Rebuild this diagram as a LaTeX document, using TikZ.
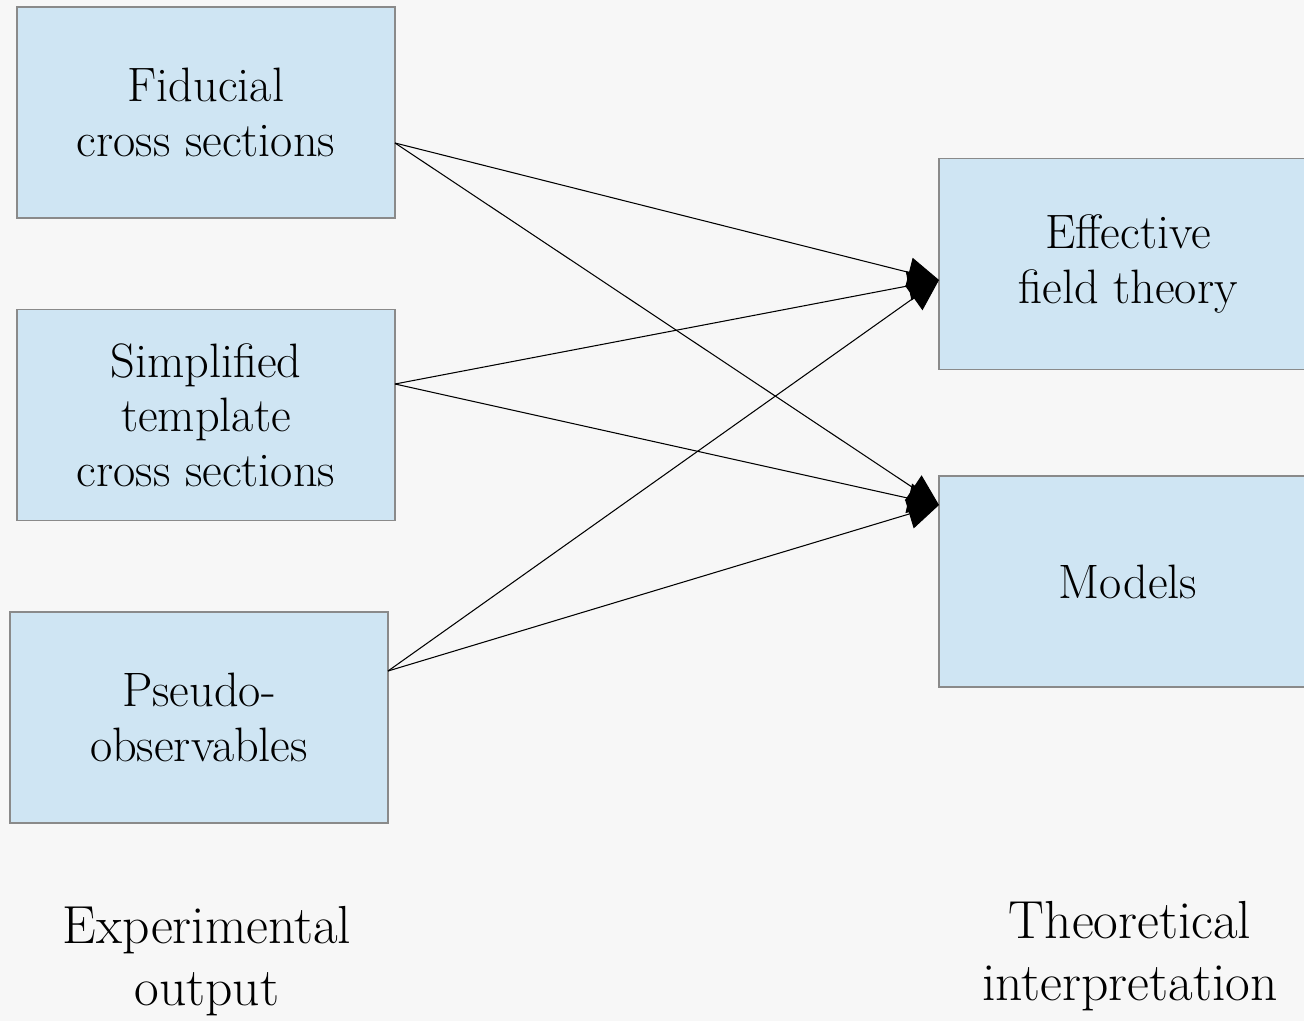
\documentclass[tikz,border=0pt]{standalone}
\usetikzlibrary{arrows.meta}
\definecolor{boxfill}{HTML}{CFE5F3}
\definecolor{boxline}{HTML}{8A8A8A}
\definecolor{bg}{HTML}{F7F7F7}
\begin{document}
\begin{tikzpicture}[x=0.02cm,y=-0.02cm,
  bx/.style={draw=boxline, line width=0.85pt, fill=boxfill, inner sep=0pt,
    minimum width=7.56cm, minimum height=4.22cm, align=center,
    font=\fontsize{27.5}{31}\selectfont},
  lbl/.style={align=center, font=\fontsize{30.5}{35}\selectfont},
  arr/.style={-{Triangle[length=0.62cm,width=0.6cm]}, line width=0.6pt}]
\useasboundingbox (0,0) rectangle (1304,1021);
\clip (0,0) rectangle (1304,1021);
\fill[bg] (0,0) rectangle (1304,1021);
\node[bx] (fid) at (206,112.5) {Fiducial\\cross sections};
\node[bx] (stx) at (206,415) {Simplified\\template\\cross sections};
\node[bx] (pso) at (199,717.5) {Pseudo-\\observables};
\node[bx] (eft) at (1128,264) {Effective\\field theory};
\node[bx] (mod) at (1128,581.5) {Models};
\node[lbl] (exp) at (207,961) {Experimental\\output};
\node[lbl] (th) at (1130,956) {Theoretical\\interpretation};
\coordinate (fo) at (395,143);
\coordinate (so) at (395,384);
\coordinate (po) at (388,671);
\coordinate (ei) at (939,280);
\coordinate (mi) at (939,505);
\draw[arr] (fo) -- (ei);
\draw[arr] (fo) -- (mi);
\draw[arr] (so) -- (ei);
\draw[arr] (so) -- (mi);
\draw[arr] (po) -- (ei);
\draw[arr] (po) -- (mi);
\end{tikzpicture}
\end{document}
